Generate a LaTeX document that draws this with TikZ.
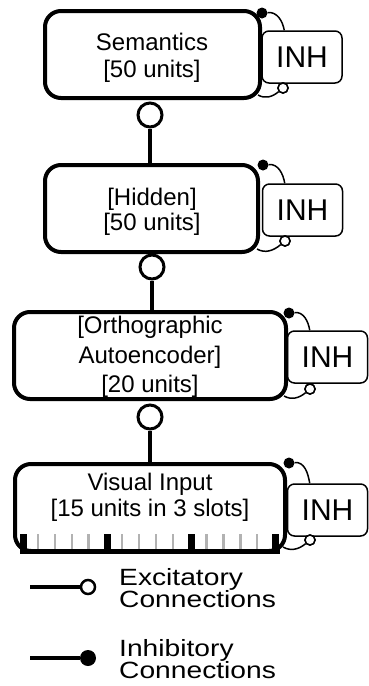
\documentclass[tikz,border=0pt]{standalone}
\usepackage{fontspec}
\setmainfont{Liberation Sans}
\usetikzlibrary{calc}
\tikzset{
  mainbox/.style={draw, line width=4pt, fill=white, rounded corners=16pt, inner sep=0pt},
  lbl/.style={anchor=base, inner sep=0pt, font=\fontsize{24}{24}\selectfont},
  inhbox/.style={draw, line width=1.5pt, fill=white, rounded corners=7pt,
    font=\fontsize{30}{30}\selectfont, inner sep=0pt, minimum width=80pt, minimum height=52pt},
  inhdot/.style={circle, fill=black, minimum size=11pt, inner sep=0pt},
  excdot/.style={circle, draw, fill=white, line width=1.5pt, minimum size=10pt, inner sep=0pt},
  bigexc/.style={circle, draw, fill=white, line width=3pt, minimum size=24pt, inner sep=0pt},
  conn/.style={line width=4pt},
  selfarc/.style={line width=1.5pt},
  legtext/.style={anchor=base west, inner sep=0pt, font=\fontsize{23.5}{23.5}\selectfont},
  tickblack/.style={line width=7pt},
  tickgray/.style={line width=2.4pt, draw=black!30},
}
\newcommand{\wide}[1]{\scalebox{1.2}[1]{#1}}
\begin{document}
\begin{tikzpicture}[x=1pt,y=-1pt]
\useasboundingbox (0,0) rectangle (369,686);
% INH boxes (behind)
\node[inhbox] (inh1) at (302,57) {INH};
\node[inhbox] (inh2) at (302.5,210) {INH};
\node[inhbox] (inh3) at (327.5,357) {INH};
\node[inhbox] (inh4) at (327.5,510) {INH};
% main boxes
\node[mainbox, minimum width=215pt, minimum height=87pt] (sem) at (152.5,54.5) {};
\node[mainbox, minimum width=213pt, minimum height=87pt] (hid) at (151.5,208.5) {};
\node[mainbox, minimum width=272pt, minimum height=87pt] (orth) at (150,355.5) {};
\node[mainbox, minimum width=270pt, minimum height=87pt] (vis) at (150,507.5) {};
% labels
\node[lbl] (sem1) at (152,50) {Semantics};
\node[lbl] (sem2) at (152,77) {[50 units]};
\node[lbl] (hid1) at (152,205) {[Hidden]};
\node[lbl] (hid2) at (152,230) {[50 units]};
\node[lbl] (orth1) at (150,333) {[Orthographic};
\node[lbl] (orth2) at (150,363) {Autoencoder]};
\node[lbl] (orth3) at (150,392) {[20 units]};
\node[lbl] (vis1) at (150,490) {Visual Input};
\node[lbl] (vis2) at (150,516) {[15 units in 3 slots]};
% ticks on visual input
\foreach \s in {0,1,2}{
  \foreach \k in {1,2,3,4}{
    \draw[tickgray] ($(vis.south west)+(8+84.3*\s+16.9*\k,-19)$) -- ($(vis.south west)+(8+84.3*\s+16.9*\k,-2)$);
  }
}
\foreach \s in {0,1,2,3}{
  \draw[tickblack] ($(vis.south west)+(10+84.3*\s,-19)$) -- ($(vis.south west)+(10+84.3*\s,0)$);
}
\draw[line width=5pt] ($(vis.south west)+(7,-1.5)$) -- ($(vis.south east)+(-7,-1.5)$);
% vertical connections
\node[bigexc] (c1) at (150,115) {};
\node[bigexc] (c2) at (152,267) {};
\node[bigexc] (c3) at (150,417) {};
\draw[conn] (c1.south) -- (hid.north -| c1);
\draw[conn] (c2.south) -- (orth.north -| c2);
\draw[conn] (c3.south) -- (vis.north -| c3);
% self loops via INH
\coordinate (t1) at ($(inh1.north west)+(23,0)$);
\coordinate (t2) at ($(inh2.north west)+(23,0)$);
\coordinate (t3) at ($(inh3.north west)+(23,0)$);
\coordinate (t4) at ($(inh4.north west)+(23,0)$);
\coordinate (b1) at (258,95);
\coordinate (b2) at (257,249);
\coordinate (b3) at (284,396);
\coordinate (b4) at (283,547);
\node[inhdot] (d1) at (262,13) {};
\node[inhdot] (d2) at (263,165) {};
\node[inhdot] (d3) at (289,313) {};
\node[inhdot] (d4) at (289,463) {};
\draw[selfarc] (d1) to[out=5,in=100] (t1);
\draw[selfarc] (d2) to[out=5,in=100] (t2);
\draw[selfarc] (d3) to[out=5,in=100] (t3);
\draw[selfarc] (d4) to[out=5,in=100] (t4);
\node[excdot] (e1) at (283,88) {};
\node[excdot] (e2) at (285,241) {};
\node[excdot] (e3) at (310,389) {};
\node[excdot] (e4) at (310,540) {};
\draw[selfarc] (e1) to[out=220,in=-30] (b1);
\draw[selfarc] (e2) to[out=220,in=-30] (b2);
\draw[selfarc] (e3) to[out=220,in=-30] (b3);
\draw[selfarc] (e4) to[out=220,in=-30] (b4);
\node[excdot] at (e1) {};
\node[excdot] at (e2) {};
\node[excdot] at (e3) {};
\node[excdot] at (e4) {};
% legend
\coordinate (lx) at (30,587);
\node[circle, draw, fill=white, line width=2.5pt, minimum size=14pt, inner sep=0pt] (lxc) at (88,587) {};
\draw[conn] (lx) -- (lxc.west);
\coordinate (li) at (30,658);
\node[circle, fill=black, minimum size=16pt, inner sep=0pt] (lic) at (88,658) {};
\draw[conn] (li) -- (lic.west);
\node[legtext] (lt1) at (119,585) {\wide{Excitatory}};
\node[legtext] (lt2) at (119,607) {\wide{Connections}};
\node[legtext] (lt3) at (119,656) {\wide{Inhibitory}};
\node[legtext] (lt4) at (119,678) {\wide{Connections}};
\end{tikzpicture}
\end{document}
